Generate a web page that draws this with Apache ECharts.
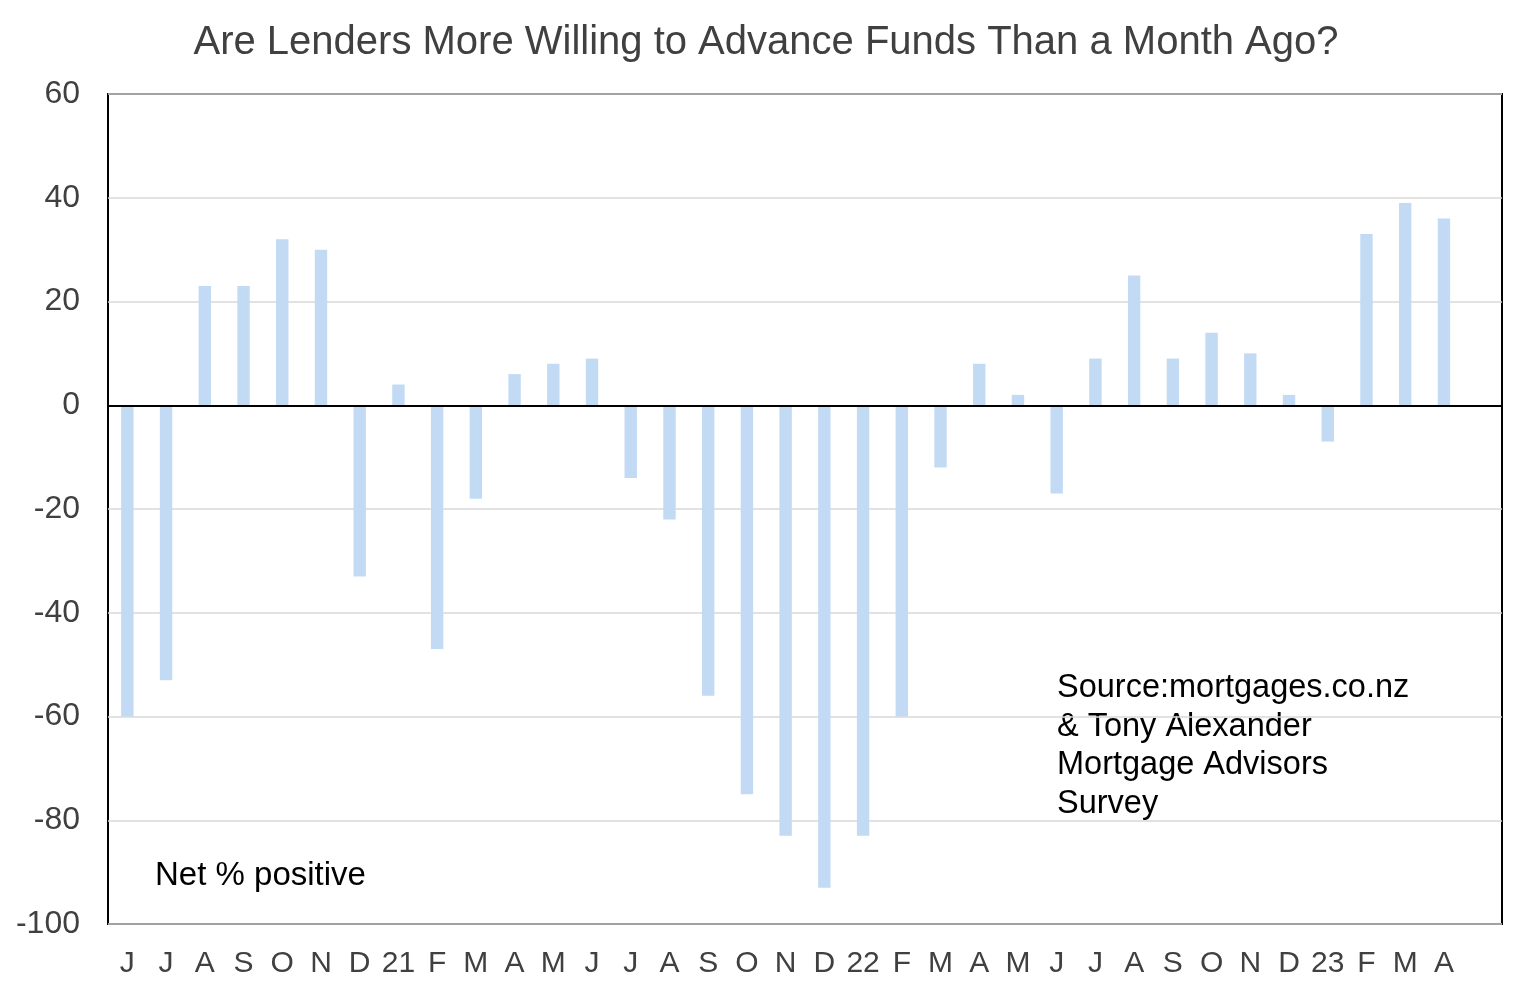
<!DOCTYPE html>
<html>
<head>
<meta charset="utf-8">
<script src="https://cdn.jsdelivr.net/npm/echarts@6/dist/echarts.min.js"></script>
<style>
  html, body { margin: 0; padding: 0; background: #fff; }
  #chart { width: 1525px; height: 997px; }
</style>
</head>
<body>
<div id="chart"></div>
<script>
// month labels, Jun 2020 .. Apr 2023
const months = ['J', 'J', 'A', 'S', 'O', 'N', 'D', '21', 'F', 'M', 'A', 'M',
                'J', 'J', 'A', 'S', 'O', 'N', 'D', '22', 'F', 'M', 'A', 'M',
                'J', 'J', 'A', 'S', 'O', 'N', 'D', '23', 'F', 'M', 'A'];
// net % of advisors saying lenders more willing
const netPositive = [-60, -53, 23, 23, 32, 30, -33, 4, -47, -18, 6, 8,
                     9, -14, -22, -56, -75, -83, -93, -83, -60, -12, 8, 2,
                     -17, 9, 25, 9, 14, 10, 2, -7, 33, 39, 36];
const yTicks = [-100, -80, -60, -40, -20, 0, 20, 40, 60];

const chart = echarts.init(document.getElementById('chart'));

const option = {
    animation: false,
    title: {
        text: 'Are Lenders More Willing to Advance Funds Than a Month Ago?',
        left: 761,
        textAlign: 'center',
        top: 18,
        textStyle: {
            fontFamily: 'Liberation Sans, Arial, sans-serif',
            fontSize: 40,
            fontWeight: 'normal',
            color: '#404040'
        }
    },
    grid: {
        left: 108,
        right: 23,
        top: 94,
        bottom: 73,
        show: true,
        borderColor: '#000',
        borderWidth: 2
    },
    xAxis: {
        type: 'category',
        data: months,
        // one spare slot after the last month, as in the original
        max: months.length,
        axisLine: { show: false },
        axisTick: { show: false },
        axisLabel: {
            margin: 25,
            interval: 0,
            fontFamily: 'Liberation Sans, Arial, sans-serif',
            fontSize: 30,
            color: '#404040',
            formatter: v => v == null ? '' : v
        }
    },
    yAxis: {
        type: 'value',
        min: yTicks[0],
        max: yTicks[yTicks.length - 1],
        interval: 20,
        axisLine: { show: false },
        axisTick: { show: false },
        axisLabel: {
            margin: 28,
            fontFamily: 'Liberation Sans, Arial, sans-serif',
            fontSize: 32,
            color: '#404040'
        },
        splitLine: { lineStyle: { color: '#d9d9d9', width: 1.5 } }
    },
    series: [{
        type: 'bar',
        data: netPositive,
        barWidth: '32%',
        itemStyle: { color: '#c2daf4' },
        markLine: {
            silent: true,
            symbol: 'none',
            label: { show: false },
            lineStyle: { color: '#000', width: 2, type: 'solid' },
            data: [{ yAxis: 0 }]
        }
    }],
    graphic: [
        {
            type: 'text',
            left: 155,
            top: 859,
            style: {
                text: 'Net % positive',
                font: '33px "Liberation Sans", Arial, sans-serif',
                fill: '#000'
            }
        },
        {
            type: 'text',
            left: 1057,
            top: 669,
            style: {
                text: 'Source:mortgages.co.nz\n& Tony Alexander\nMortgage Advisors\nSurvey',
                font: '32.5px "Liberation Sans", Arial, sans-serif',
                lineHeight: 38.5,
                fill: '#000'
            }
        }
    ]
};

chart.setOption(option);
</script>
</body>
</html>
